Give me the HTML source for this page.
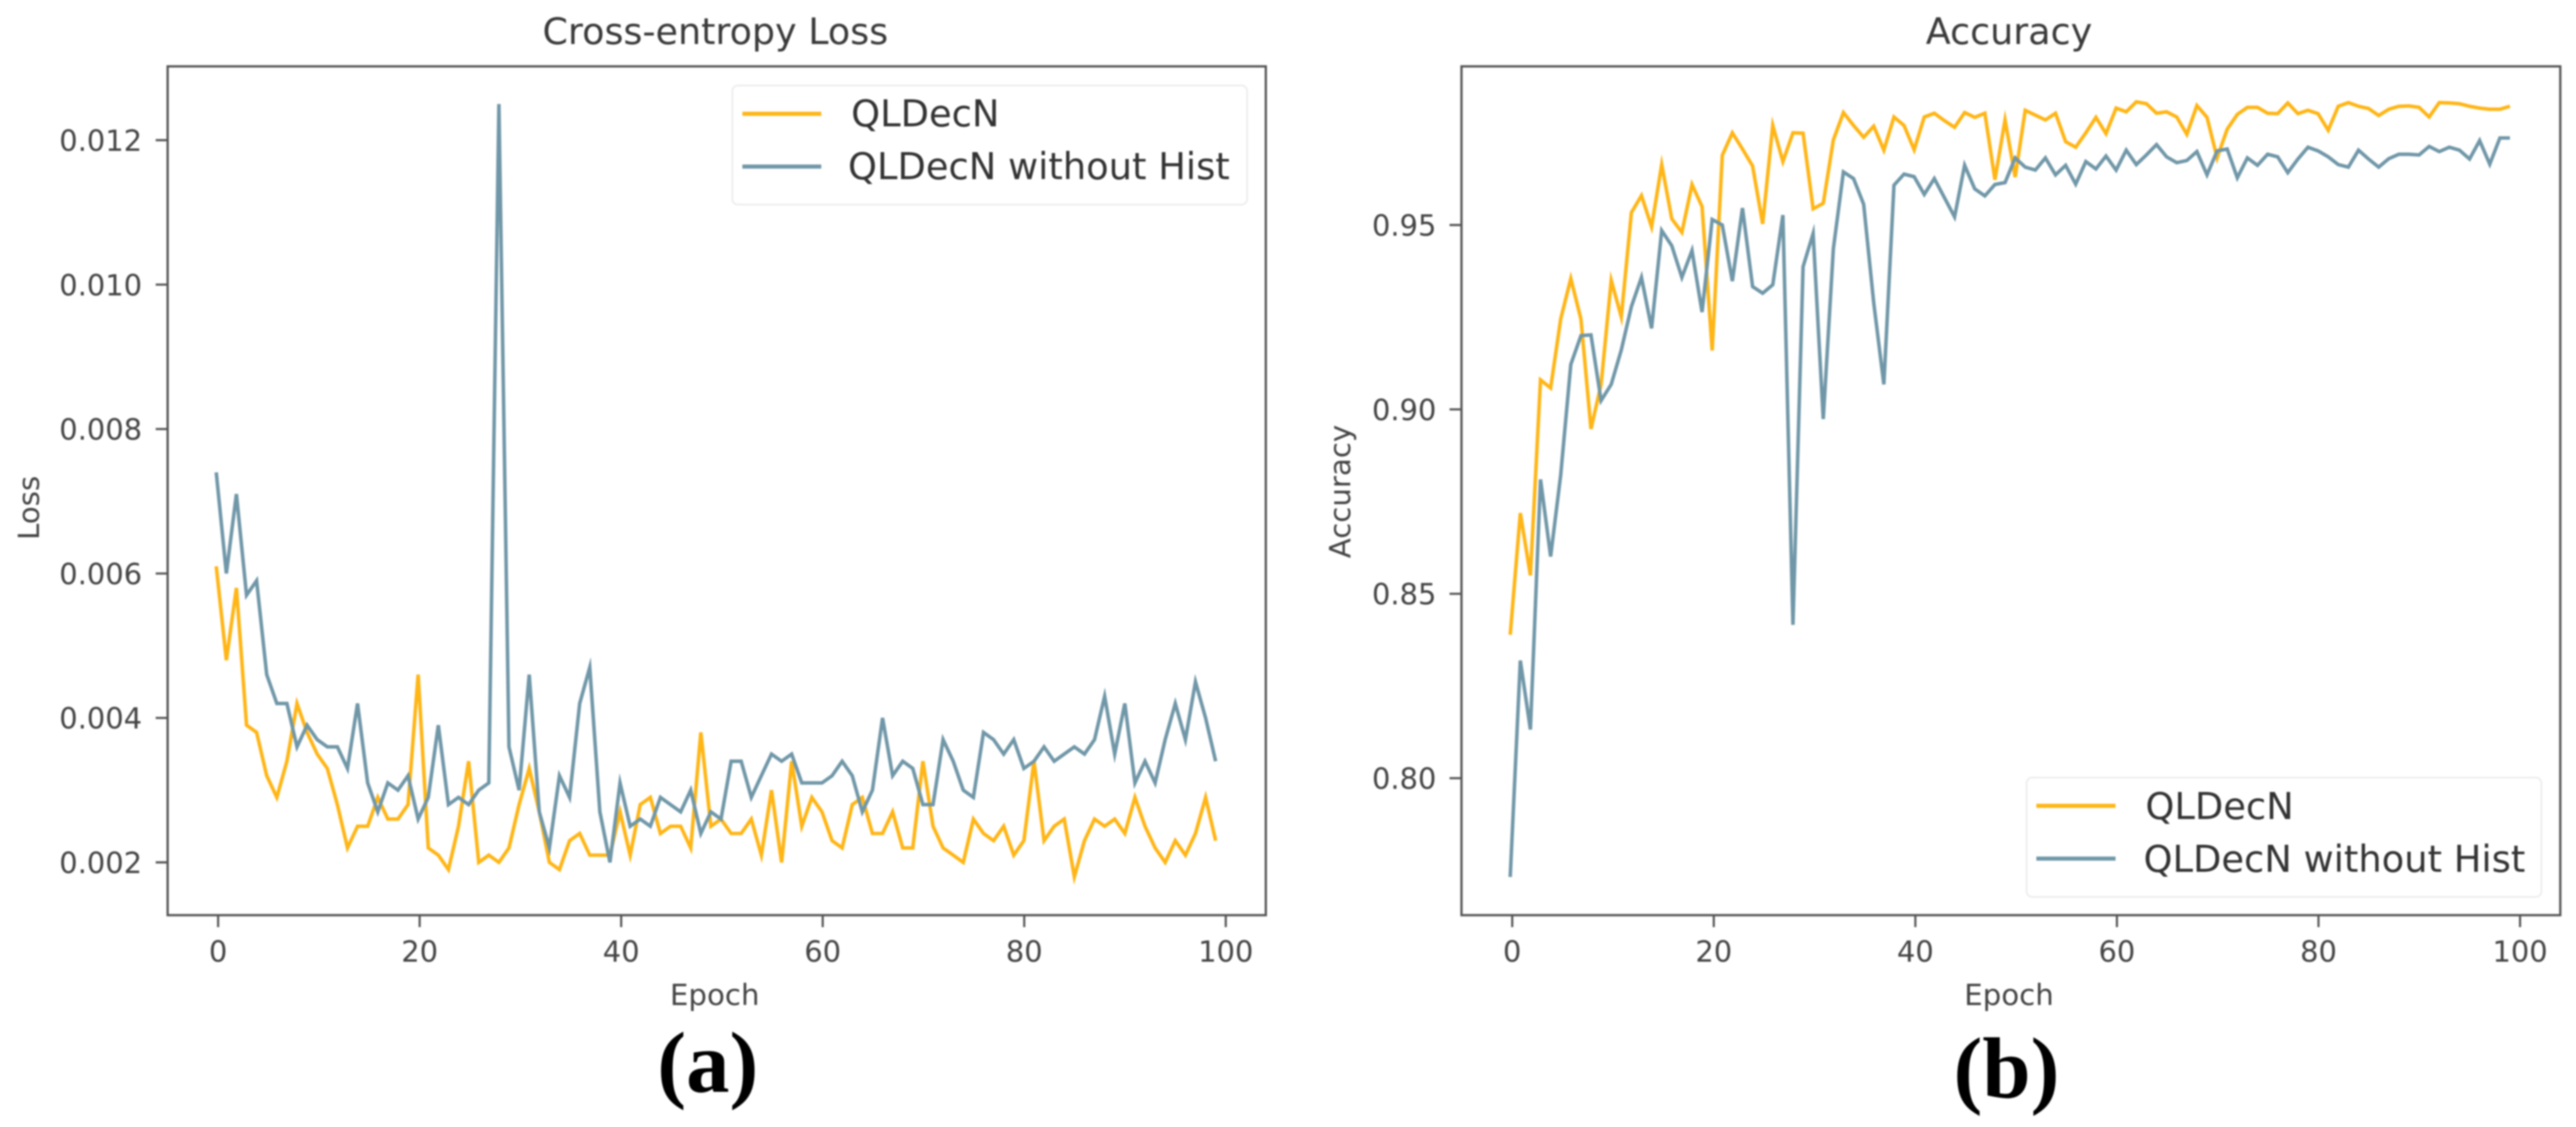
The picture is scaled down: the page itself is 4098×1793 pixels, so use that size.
<!DOCTYPE html>
<html lang="en">
<head>
<meta charset="utf-8">
<title>QLDecN training curves</title>
<style>
html,body{margin:0;padding:0;background:#fff;width:4098px;height:1793px;overflow:hidden}
svg{display:block;filter:blur(1.2px)}
text{font-family:"DejaVu Sans","Liberation Sans",sans-serif;fill:#444}
.sub{font-family:"Liberation Serif",serif;font-weight:bold;font-size:138px;fill:#000}
.title{font-size:58px;fill:#3a3a3a}
.tick{font-size:46px}
.axl{font-size:46.5px}
.leg{font-size:58.6px;fill:#333}
</style>
</head>
<body>
<svg id="fig" xmlns="http://www.w3.org/2000/svg" width="4098" height="1793" viewBox="0 0 4098 1793">
  <g id="panelA"></g>
  <g id="panelB"></g>

  <text class="title" x="1138" y="70" text-anchor="middle">Cross-entropy Loss</text>
  <text class="title" x="3196" y="70" text-anchor="middle">Accuracy</text>

  <text class="axl" x="1137" y="1599" text-anchor="middle">Epoch</text>
  <text class="axl" x="3196" y="1599" text-anchor="middle">Epoch</text>
  <text class="axl" transform="translate(62 808) rotate(-90)" text-anchor="middle">Loss</text>
  <text class="axl" transform="translate(2148 782) rotate(-90)" text-anchor="middle">Accuracy</text>

  <g>
    <rect x="1165" y="136" width="819" height="189.5" rx="9" fill="#fff" fill-opacity="0.8" stroke="#eeeeee" stroke-width="3"/>
    <line x1="1181" y1="181" x2="1306.5" y2="181" stroke="#FFB515" stroke-width="6.5"/>
    <line x1="1181" y1="265" x2="1306.5" y2="265" stroke="#7097A8" stroke-width="6.5"/>
    <text class="leg" x="1354" y="201">QLDecN</text>
    <text class="leg" x="1349" y="285">QLDecN without Hist</text>
  </g>

  <g>
    <rect x="3224" y="1237" width="819" height="190" rx="9" fill="#fff" fill-opacity="0.8" stroke="#eeeeee" stroke-width="3"/>
    <line x1="3239.5" y1="1282" x2="3365.5" y2="1282" stroke="#FFB515" stroke-width="6.5"/>
    <line x1="3239.5" y1="1366" x2="3365.5" y2="1366" stroke="#7097A8" stroke-width="6.5"/>
    <text class="leg" x="3413" y="1303">QLDecN</text>
    <text class="leg" x="3410" y="1387">QLDecN without Hist</text>
  </g>

  <text class="sub" x="1126" y="1737" text-anchor="middle">(a)</text>
  <text class="sub" x="3192" y="1746" text-anchor="middle">(b)</text>
</svg>
<script>
const epochTicks = [0, 20, 40, 60, 80, 100];
const lossTicks = [0.002, 0.004, 0.006, 0.008, 0.010, 0.012];
const lossTickLabels = ["0.002", "0.004", "0.006", "0.008", "0.010", "0.012"];
const accTicks = [0.80, 0.85, 0.90, 0.95];
const accTickLabels = ["0.80", "0.85", "0.90", "0.95"];

const lossQLDecN = [
0.0061,0.0048,0.0058,0.0039,0.0038,0.0032,0.0029,0.0034,0.0042,0.0038,
0.0035,0.0033,0.0028,0.0022,0.0025,0.0025,0.0029,0.0026,0.0026,0.0028,
0.0046,0.0022,0.0021,0.0019,0.0025,0.0034,0.0020,0.0021,0.0020,0.0022,
0.0028,0.0033,0.0027,0.0020,0.0019,0.0023,0.0024,0.0021,0.0021,0.0021,
0.0027,0.0021,0.0028,0.0029,0.0024,0.0025,0.0025,0.0022,0.0038,0.0025,
0.0026,0.0024,0.0024,0.0026,0.0021,0.0030,0.0020,0.0034,0.0025,0.0029,
0.0027,0.0023,0.0022,0.0028,0.0029,0.0024,0.0024,0.0027,0.0022,0.0022,
0.0034,0.0025,0.0022,0.0021,0.0020,0.0026,0.0024,0.0023,0.0025,0.0021,
0.0023,0.0034,0.0023,0.0025,0.0026,0.0018,0.0023,0.0026,0.0025,0.0026,
0.0024,0.0029,0.0025,0.0022,0.0020,0.0023,0.0021,0.0024,0.0029,0.0023];

const lossWithoutHist = [
0.0074,0.0060,0.0071,0.0057,0.0059,0.0046,0.0042,0.0042,0.0036,0.0039,
0.0037,0.0036,0.0036,0.0033,0.0042,0.0031,0.0027,0.0031,0.0030,0.0032,
0.0026,0.0029,0.0039,0.0028,0.0029,0.0028,0.0030,0.0031,0.0125,0.0036,
0.0030,0.0046,0.0027,0.0022,0.0032,0.0029,0.0042,0.0047,0.0027,0.0020,
0.0031,0.0025,0.0026,0.0025,0.0029,0.0028,0.0027,0.0030,0.0024,0.0027,
0.0026,0.0034,0.0034,0.0029,0.0032,0.0035,0.0034,0.0035,0.0031,0.0031,
0.0031,0.0032,0.0034,0.0032,0.0027,0.0030,0.0040,0.0032,0.0034,0.0033,
0.0028,0.0028,0.0037,0.0034,0.0030,0.0029,0.0038,0.0037,0.0035,0.0037,
0.0033,0.0034,0.0036,0.0034,0.0035,0.0036,0.0035,0.0037,0.0043,0.0035,
0.0042,0.0031,0.0034,0.0031,0.0037,0.0042,0.0037,0.0045,0.0040,0.0034];

const accQLDecN = [
0.8389,0.8719,0.8550,0.9080,0.9058,0.9245,0.9355,0.9245,0.8947,0.9068,
0.9350,0.9251,0.9534,0.9580,0.9495,0.9664,0.9517,0.9480,0.9610,0.9550,
0.9160,0.9689,0.9750,0.9706,0.9660,0.9503,0.9770,0.9672,0.9750,0.9749,
0.9544,0.9559,0.9731,0.9805,0.9770,0.9738,0.9768,0.9703,0.9793,0.9770,
0.9704,0.9793,0.9803,0.9783,0.9765,0.9805,0.9792,0.9803,0.9623,0.9785,
0.9630,0.9811,0.9798,0.9785,0.9803,0.9726,0.9711,0.9750,0.9792,0.9748,
0.9817,0.9807,0.9834,0.9829,0.9803,0.9807,0.9793,0.9746,0.9824,0.9792,
0.9682,0.9760,0.9800,0.9819,0.9819,0.9803,0.9802,0.9831,0.9802,0.9811,
0.9802,0.9757,0.9822,0.9832,0.9822,0.9816,0.9797,0.9814,0.9822,0.9823,
0.9819,0.9793,0.9832,0.9831,0.9829,0.9822,0.9817,0.9814,0.9814,0.9822];

const accWithoutHist = [
0.7732,0.8319,0.8132,0.8810,0.8601,0.8822,0.9122,0.9200,0.9202,0.9024,
0.9068,0.9161,0.9279,0.9358,0.9220,0.9485,0.9444,0.9358,0.9431,0.9264,
0.9515,0.9500,0.9348,0.9546,0.9333,0.9315,0.9338,0.9527,0.8416,0.9387,
0.9477,0.8974,0.9436,0.9644,0.9626,0.9556,0.9289,0.9068,0.9608,0.9638,
0.9631,0.9583,0.9626,0.9574,0.9522,0.9662,0.9598,0.9579,0.9610,0.9615,
0.9682,0.9657,0.9649,0.9682,0.9636,0.9662,0.9611,0.9672,0.9652,0.9687,
0.9649,0.9703,0.9664,0.9690,0.9718,0.9685,0.9669,0.9675,0.9699,0.9636,
0.9701,0.9706,0.9628,0.9682,0.9662,0.9692,0.9685,0.9642,0.9679,0.9711,
0.9701,0.9685,0.9664,0.9657,0.9703,0.9679,0.9657,0.9680,0.9692,0.9692,
0.9690,0.9713,0.9699,0.9711,0.9703,0.9679,0.9729,0.9665,0.9736,0.9736];

const NS = "http://www.w3.org/2000/svg";
function make(parent, tag) {
  const el = document.createElementNS(NS, tag);
  parent.appendChild(el);
  return el;
}

// Axis functions: tick scales and the slightly offset data scales seen in the reference
const lossTickX = e => 347 + 16.03 * e;
const lossDataX = e => 344 + 16.06 * e;
const lossY = v => 1372 - (v - 0.002) * 114900;
const accTickX = e => 2405.7 + 16.033 * e;
const accDataX = e => 2402.5 + 16.065 * e;
const accY = v => 358 + (0.95 - v) * 5867;

function drawFrame(g, left, right, top, bottom) {
  const r = make(g, "rect");
  
  
  r.setAttribute("x", left);
  r.setAttribute("y", top);
  r.setAttribute("width", right - left);
  r.setAttribute("height", bottom - top);
  r.setAttribute("fill", "none");
  r.setAttribute("stroke", "#555");
  r.setAttribute("stroke-width", "3.6");
}

function drawXTicks(g, xf, bottom) {
  epochTicks.forEach(t => {
    const l = make(g, "line");
    
    
    l.setAttribute("x1", xf(t));
    l.setAttribute("x2", xf(t));
    l.setAttribute("y1", bottom);
    l.setAttribute("y2", bottom + 19);
    l.setAttribute("stroke", "#555");
    l.setAttribute("stroke-width", "3.4");
    const s = make(g, "text");
    
    
    s.setAttribute("class", "tick");
    s.setAttribute("x", xf(t));
    s.setAttribute("y", 1530);
    s.setAttribute("text-anchor", "middle");
    s.textContent = String(t);
  });
}

function drawYTicks(g, yf, ticks, labels, axisX, labelX) {
  ticks.forEach((t, i) => {
    const l = make(g, "line");
    
    
    l.setAttribute("x1", axisX - 19);
    l.setAttribute("x2", axisX);
    l.setAttribute("y1", yf(t));
    l.setAttribute("y2", yf(t));
    l.setAttribute("stroke", "#555");
    l.setAttribute("stroke-width", "3.4");
    const s = make(g, "text");
    
    
    s.setAttribute("class", "tick");
    s.setAttribute("x", labelX);
    s.setAttribute("y", yf(t) + 17);
    s.setAttribute("text-anchor", "end");
    s.textContent = labels[i];
  });
}

function drawSeries(g, values, xf, yf, color, name) {
  const p = make(g, "polyline");
  
  
  p.setAttribute("points", values.map((v, i) => xf(i).toFixed(1) + "," + yf(v).toFixed(1)).join(" "));
  p.setAttribute("fill", "none");
  p.setAttribute("stroke", color);
  p.setAttribute("stroke-width", "5.6");
  p.setAttribute("stroke-linejoin", "miter");
  p.setAttribute("stroke-miterlimit", "6");
}

const panelA = document.getElementById("panelA");
const panelB = document.getElementById("panelB");
const YELLOW = "#FFB515";
const BLUE = "#7097A8";

drawSeries(panelA, lossQLDecN, lossDataX, lossY, YELLOW, "loss-line-qldecn");
drawSeries(panelA, lossWithoutHist, lossDataX, lossY, BLUE, "loss-line-without-hist");
drawFrame(panelA, 266.7, 2013.7, 105.6, 1456);
drawXTicks(panelA, lossTickX, 1456);
drawYTicks(panelA, lossY, lossTicks, lossTickLabels, 266.7, 226);

drawSeries(panelB, accQLDecN, accDataX, accY, YELLOW, "accuracy-line-qldecn");
drawSeries(panelB, accWithoutHist, accDataX, accY, BLUE, "accuracy-line-without-hist");
drawFrame(panelB, 2325, 4073, 105.6, 1456);
drawXTicks(panelB, accTickX, 1456);
drawYTicks(panelB, accY, accTicks, accTickLabels, 2325, 2285);
</script>
</body>
</html>
